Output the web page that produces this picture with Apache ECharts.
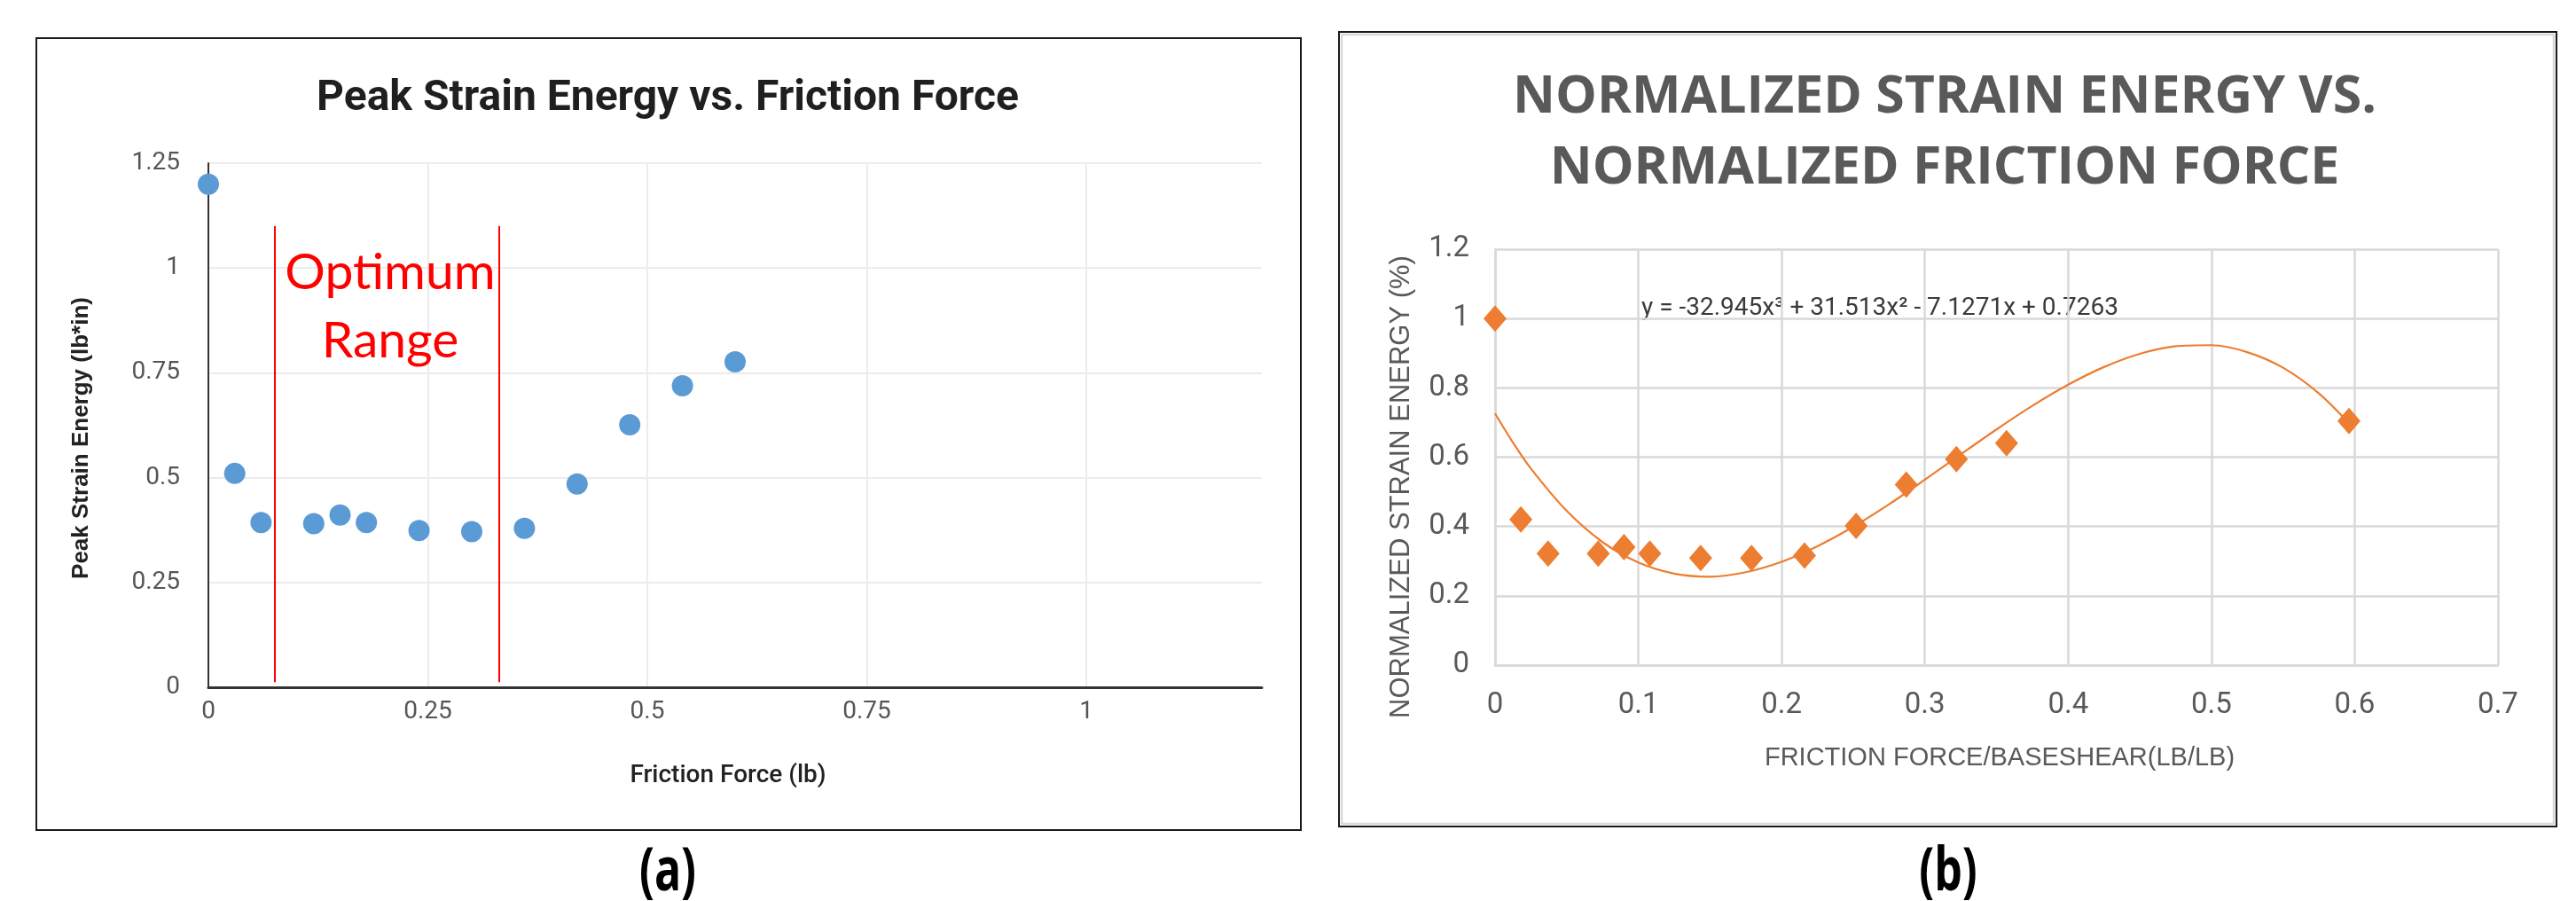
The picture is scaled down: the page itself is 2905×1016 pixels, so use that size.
<!DOCTYPE html>
<html>
<head>
<meta charset="utf-8">
<script src="https://cdn.jsdelivr.net/npm/echarts@6/dist/echarts.min.js"></script>
<style>
html,body{margin:0;padding:0;background:#fff;}
#c{width:2905px;height:1016px;}
</style>
</head>
<body>
<div id="c"></div>
<script>
// ---------- Panel (a) data ----------
const titleA = 'Peak Strain Energy vs. Friction Force';
const xNameA = 'Friction Force (lb)';
const yNameA = 'Peak Strain Energy (lb*in)';
const frictionForce = [0, 0.03, 0.06, 0.12, 0.15, 0.18, 0.24, 0.30, 0.36, 0.42, 0.48, 0.54, 0.60];
const peakStrainEnergy = [1.20, 0.51, 0.393, 0.39, 0.411, 0.393, 0.374, 0.371, 0.379, 0.485, 0.626, 0.719, 0.776];
const xTicksA = [0, 0.25, 0.5, 0.75, 1];
const xMaxA = 1.2;
const yTicksA = [0, 0.25, 0.5, 0.75, 1, 1.25];
const optimumRange = [0.075, 0.331];
const optimumSpanY = [0.012, 1.1];
const optimumText = 'Optimum\nRange';
const panelLabelA = '(a)';

// ---------- Panel (b) data ----------
const titleB = 'NORMALIZED STRAIN ENERGY VS.\nNORMALIZED FRICTION FORCE';
const xNameB = 'FRICTION FORCE/BASESHEAR(LB/LB)';
const yNameB = 'NORMALIZED STRAIN ENERGY (%)';
const normFriction = [0, 0.018, 0.037, 0.072, 0.090, 0.108, 0.1435, 0.179, 0.216, 0.252, 0.287, 0.322, 0.357, 0.596];
const normEnergy = [1.0, 0.42, 0.322, 0.322, 0.340, 0.322, 0.309, 0.309, 0.316, 0.402, 0.521, 0.594, 0.640, 0.704];
// points read along the drawn polynomial trendline
const trendX = [0, 0.0125, 0.025, 0.05, 0.075, 0.1, 0.125, 0.15, 0.175, 0.2, 0.225, 0.25, 0.275, 0.3, 0.325, 0.35, 0.375, 0.4, 0.425, 0.45, 0.475, 0.5, 0.525, 0.55, 0.575, 0.596];
const trendY = [0.726, 0.642, 0.567, 0.445, 0.355, 0.296, 0.264, 0.255, 0.268, 0.298, 0.343, 0.399, 0.464, 0.535, 0.608, 0.680, 0.748, 0.809, 0.860, 0.898, 0.920, 0.923, 0.903, 0.858, 0.784, 0.698];
const trendEquation = 'y = -32.945x\u00B3 + 31.513x\u00B2 - 7.1271x + 0.7263';
const xTicksB = [0, 0.1, 0.2, 0.3, 0.4, 0.5, 0.6, 0.7];
const yTicksB = [0, 0.2, 0.4, 0.6, 0.8, 1.0, 1.2];
const panelLabelB = '(b)';

const chart = echarts.init(document.getElementById('c'), null, {renderer: 'canvas'});

function txt(text, x, y, font, fill, align, valign, rotation, scaleY) {
  return {
    type: 'text', x: x, y: y, rotation: rotation || 0, scaleY: scaleY || 1, silent: true,
    style: {
      text: text, x: 0, y: 0, font: font, fill: fill,
      align: align, textAlign: align, verticalAlign: valign, textVerticalAlign: valign
    }
  };
}

const option = {
  animation: false,
  backgroundColor: '#ffffff',
  grid: [
    {left: 235, right: 1482, top: 184, bottom: 241, containLabel: false},
    {left: 1686, right: 88, top: 281, bottom: 266, containLabel: false}
  ],
  xAxis: [
    {
      type: 'value', gridIndex: 0,
      min: xTicksA[0], max: xMaxA, interval: xTicksA[1] - xTicksA[0],
      axisLine: {show: true, onZero: false, lineStyle: {color: '#333333', width: 3}},
      axisTick: {show: false},
      axisLabel: {show: true, showMaxLabel: false, margin: 14, color: '#555555', fontFamily: 'Roboto', fontSize: 28},
      splitLine: {show: true, showMaxLine: false, lineStyle: {color: '#ececec', width: 2}}
    },
    {
      type: 'value', gridIndex: 1,
      min: xTicksB[0], max: xTicksB[xTicksB.length - 1], interval: 0.1,
      axisLine: {show: true, onZero: false, lineStyle: {color: '#d9d9d9', width: 2.5}},
      axisTick: {show: false},
      axisLabel: {show: true, margin: 29, color: '#595959', fontFamily: 'Roboto', fontSize: 33},
      splitLine: {show: true, lineStyle: {color: '#d9d9d9', width: 2.5}}
    }
  ],
  yAxis: [
    {
      type: 'value', gridIndex: 0,
      min: yTicksA[0], max: yTicksA[yTicksA.length - 1], interval: 0.25,
      axisLine: {show: true, onZero: false, lineStyle: {color: '#333333', width: 2}},
      axisTick: {show: false},
      axisLabel: {show: true, margin: 32, color: '#555555', fontFamily: 'Roboto', fontSize: 28},
      splitLine: {show: true, lineStyle: {color: '#ececec', width: 2}}
    },
    {
      type: 'value', gridIndex: 1,
      min: yTicksB[0], max: yTicksB[yTicksB.length - 1], interval: 0.2,
      axisLine: {show: true, onZero: false, lineStyle: {color: '#d9d9d9', width: 2.5}},
      axisTick: {show: false},
      axisLabel: {show: true, margin: 29, color: '#595959', fontFamily: 'Roboto', fontSize: 33},
      splitLine: {show: true, lineStyle: {color: '#d9d9d9', width: 2.5}}
    }
  ],
  series: [
    {
      name: 'Peak Strain Energy',
      type: 'scatter', xAxisIndex: 0, yAxisIndex: 0,
      symbol: 'circle', symbolSize: 24,
      itemStyle: {color: '#5b9bd5', opacity: 1},
      data: frictionForce.map((x, i) => [x, peakStrainEnergy[i]]),
      z: 5,
      markLine: {
        silent: true, symbol: 'none', animation: false,
        label: {show: false},
        lineStyle: {color: '#ff0000', width: 2, type: 'solid'},
        data: optimumRange.map(x => [{coord: [x, optimumSpanY[0]]}, {coord: [x, optimumSpanY[1]]}])
      }
    },
    {
      name: 'Trendline',
      type: 'line', xAxisIndex: 1, yAxisIndex: 1,
      smooth: 0.3, showSymbol: false, symbol: 'none',
      lineStyle: {color: '#ed7d31', width: 2.2},
      data: trendX.map((x, i) => [x, trendY[i]]),
      z: 3
    },
    {
      name: 'Normalized Strain Energy',
      type: 'scatter', xAxisIndex: 1, yAxisIndex: 1,
      symbol: 'diamond', symbolSize: [26, 30],
      itemStyle: {color: '#ed7d31', opacity: 1},
      data: normFriction.map((x, i) => [x, normEnergy[i]]),
      z: 5
    }
  ],
  graphic: {
    elements: [
      // panel borders
      {type: 'rect', shape: {x: 41, y: 43, width: 1426, height: 893}, style: {fill: 'none', stroke: '#1a1a1a', lineWidth: 2}, silent: true, z: 0},
      {type: 'rect', shape: {x: 1510, y: 36, width: 1373, height: 896}, style: {fill: 'none', stroke: '#1a1a1a', lineWidth: 2}, silent: true, z: 0},
      {type: 'rect', shape: {x: 1513, y: 39, width: 1367, height: 890}, style: {fill: 'none', stroke: '#d9d9d9', lineWidth: 2.5}, silent: true, z: 0},
      // panel (a) texts
      txt(titleA, 753, 112, 'bold 48px Roboto', '#1f1f1f', 'center', 'middle'),
      txt(yNameA, 92, 494, 'bold 26px "Liberation Sans"', '#222222', 'center', 'middle', Math.PI / 2),
      txt(xNameA, 821, 875, '500 28px Roboto', '#222222', 'center', 'middle'),
      {
        type: 'text', x: 440, y: 346, silent: true, z: 10,
        style: {text: optimumText, x: 0, y: 0, font: '57px Lato', fill: '#ff0000', lineHeight: 77,
          align: 'center', textAlign: 'center', verticalAlign: 'middle', textVerticalAlign: 'middle'}
      },
      txt(panelLabelA, 753, 985, 'bold 50px "Open Sans"', '#000000', 'center', 'middle', 0, 1.35),
      // panel (b) texts
      {
        type: 'text', x: 2193, y: 150, silent: true,
        style: {text: titleB, x: 0, y: 0, font: 'bold 59px "Open Sans"', fill: '#595959', lineHeight: 80,
          align: 'center', textAlign: 'center', verticalAlign: 'middle', textVerticalAlign: 'middle'}
      },
      txt(yNameB, 1580, 549, '31px "Liberation Sans"', '#595959', 'center', 'middle', Math.PI / 2),
      txt(xNameB, 2255, 855, '29px "Liberation Sans"', '#595959', 'center', 'middle'),
      txt(trendEquation, 1851, 348, '28px Roboto', '#3a3a3a', 'left', 'middle'),
      txt(panelLabelB, 2197, 985, 'bold 50px "Open Sans"', '#000000', 'center', 'middle', 0, 1.35)
    ]
  }
};
chart.setOption(option);
</script>
</body>
</html>
